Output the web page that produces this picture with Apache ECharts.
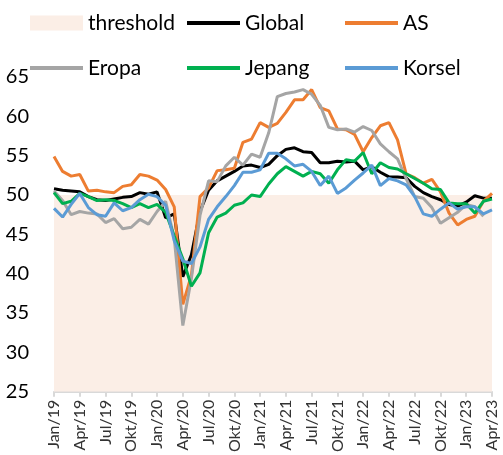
<!DOCTYPE html>
<html>
<head>
<meta charset="utf-8">
<script src="https://cdn.jsdelivr.net/npm/echarts@6/dist/echarts.min.js"></script>
<style>
  html, body { margin: 0; padding: 0; background: #fff; }
  #chart { width: 503px; height: 455px; }
</style>
</head>
<body>
<div id="chart"></div>
<script>
// bulan Jan/19 .. Apr/23
const monthNames = ['Jan', 'Feb', 'Mar', 'Apr', 'Mei', 'Jun', 'Jul', 'Agu', 'Sep', 'Okt', 'Nov', 'Des']
const years = ['19', '20', '21', '22', '23']
const categories = []
years.forEach(y => monthNames.forEach(m => categories.push(m + '/' + y)))
categories.length = 52

const threshold = categories.map(() => 50)

const global = [50.8, 50.6, 50.5, 50.4, 49.8, 49.4, 49.3, 49.5, 49.7, 49.8, 50.3, 50.1,
  50.4, 47.1, 47.6, 39.6, 42.4, 47.9, 50.6, 51.8, 52.4, 53.0, 53.7, 53.8,
  53.5, 53.9, 55.0, 55.8, 56.0, 55.5, 55.4, 54.1, 54.1, 54.3, 54.2, 54.3,
  53.2, 53.6, 52.9, 52.3, 52.3, 52.2, 51.1, 50.3, 49.8, 49.4, 48.8, 48.6,
  49.1, 49.9, 49.6, 49.6]

const as = [54.9, 53.0, 52.4, 52.6, 50.5, 50.6, 50.4, 50.3, 51.1, 51.3, 52.6, 52.4,
  51.9, 50.7, 48.5, 36.1, 39.8, 49.8, 50.9, 53.1, 53.2, 53.4, 56.7, 57.1,
  59.2, 58.6, 59.1, 60.5, 62.1, 62.1, 63.4, 61.1, 60.7, 58.4, 58.3, 57.7,
  55.5, 57.3, 58.8, 59.2, 57.0, 52.7, 52.2, 51.5, 52.0, 50.4, 47.7, 46.2,
  46.9, 47.3, 49.2, 50.2]

const eropa = [50.5, 49.3, 47.5, 47.9, 47.7, 47.6, 46.5, 47.0, 45.7, 45.9, 46.9, 46.3,
  47.9, 49.2, 44.5, 33.4, 39.4, 47.4, 51.8, 51.7, 53.7, 54.8, 53.8, 55.2,
  54.8, 57.9, 62.5, 62.9, 63.1, 63.4, 62.8, 61.4, 58.6, 58.3, 58.4, 58.0,
  58.7, 58.2, 56.5, 55.5, 54.6, 52.1, 49.8, 49.6, 48.4, 46.4, 47.1, 47.8,
  48.8, 48.5, 47.3, null]

const jepang = [50.3, 48.9, 49.2, 50.2, 49.8, 49.3, 49.4, 49.3, 48.9, 48.4, 48.9, 48.4,
  48.8, 47.8, 44.8, 41.9, 38.4, 40.1, 45.2, 47.2, 47.7, 48.7, 49.0, 50.0,
  49.8, 51.4, 52.7, 53.6, 53.0, 52.4, 53.0, 52.7, 51.5, 53.2, 54.5, 54.3,
  55.4, 52.7, 54.1, 53.5, 53.3, 52.7, 52.1, 51.5, 50.8, 50.7, 49.0, 48.9,
  48.9, 47.7, 49.2, 49.5]

const korsel = [48.3, 47.2, 48.8, 50.2, 48.4, 47.5, 47.3, 49.0, 48.0, 48.4, 49.4, 50.1,
  49.8, 48.7, 44.2, 41.6, 41.3, 43.4, 46.9, 48.5, 49.8, 51.2, 52.9, 52.9,
  53.2, 55.3, 55.3, 54.6, 53.7, 53.9, 53.0, 51.2, 52.4, 50.2, 50.9, 51.9,
  52.8, 53.8, 51.2, 52.1, 51.8, 51.3, 49.8, 47.6, 47.3, 48.2, 49.0, 48.2,
  48.5, 48.5, 47.6, 48.1]

const FONT = 'Lato'
const PEACH = '#FBEEE6'

const chart = echarts.init(document.getElementById('chart'))

const lineSeries = (name, data, color) => ({
  name,
  type: 'line',
  data,
  symbol: 'none',
  color,
  lineStyle: { width: 3, color },
  silent: true,
})

// one legend per slot so the columns line up like the original
const legendAt = (left, top, item, iconHeight) => ({
  left,
  top,
  padding: 0,
  itemWidth: 53,
  itemHeight: iconHeight,
  itemGap: 0,
  selectedMode: false,
  icon: 'rect',
  data: [item],
  textStyle: { fontFamily: FONT, fontSize: 21, color: '#000', lineHeight: 22 },
})

const option = {
  animation: false,
  legend: [
    legendAt(30, 12, { name: 'threshold', itemStyle: { color: PEACH } }, 15),
    legendAt(187, 12, 'Global', 4),
    legendAt(345, 12, 'AS', 4),
    legendAt(30, 57, 'Eropa', 4),
    legendAt(187, 57, 'Jepang', 4),
    legendAt(345, 57, 'Korsel', 4),
  ],
  grid: { left: 54, right: 11, top: 77, bottom: 63 },
  xAxis: {
    type: 'category',
    boundaryGap: false,
    data: categories,
    axisLine: { lineStyle: { color: '#D9D9D9', width: 2 } },
    axisTick: { interval: 2, length: 5, lineStyle: { color: '#D9D9D9', width: 2 } },
    axisLabel: {
      interval: 2,
      rotate: 90,
      margin: 8,
      fontFamily: FONT,
      fontSize: 16,
      color: '#333',
    },
  },
  yAxis: {
    type: 'value',
    min: 25,
    max: 65,
    interval: 5,
    splitLine: { show: false },
    axisLine: { show: false },
    axisTick: { show: false },
    axisLabel: { fontFamily: FONT, fontSize: 20, color: '#000', margin: 25 },
  },
  series: [
    {
      name: 'threshold',
      type: 'line',
      data: threshold,
      symbol: 'none',
      color: PEACH,
      lineStyle: { width: 0, opacity: 0 },
      areaStyle: { color: PEACH, opacity: 1, origin: 'start' },
      silent: true,
      z: 1,
    },
    lineSeries('Global', global, '#000000'),
    lineSeries('AS', as, '#ED7D31'),
    lineSeries('Eropa', eropa, '#A5A5A5'),
    lineSeries('Jepang', jepang, '#00B050'),
    lineSeries('Korsel', korsel, '#5B9BD5'),
  ],
}

chart.setOption(option)
</script>
</body>
</html>
